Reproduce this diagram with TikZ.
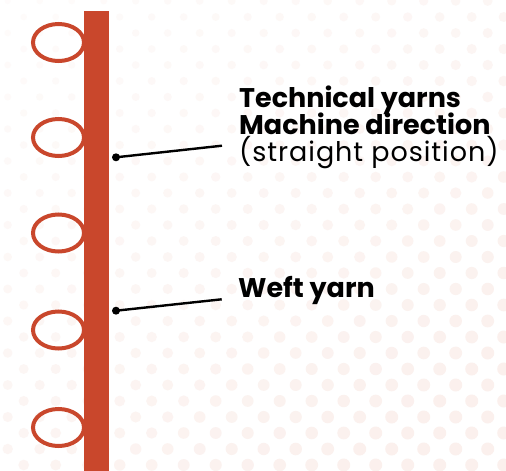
\documentclass[tikz,border=0pt]{standalone}
\usepackage{fontspec}
\setmainfont{Poppins}
\newfontfamily\widebook[LetterSpace=3.5]{Poppins}
\usetikzlibrary{shapes.geometric}
\definecolor{yarnred}{HTML}{C9472C}
\definecolor{halftone}{HTML}{F7E2DC}
\tikzset{
  loopyarn/.style={ellipse, draw=yarnred, line width=4pt, minimum width=51pt, minimum height=37pt, inner sep=0pt},
  pin/.style={circle, fill=black, inner sep=0pt, minimum size=8pt},
  leader/.style={line width=2.4pt},
  label/.style={anchor=base west, inner sep=0pt, font=\fontsize{27}{32}\selectfont}
}
\begin{document}
\begin{tikzpicture}[x=1pt,y=-1pt]
  \useasboundingbox (0,0) rectangle (506,471);
  \fill[white] (0,0) rectangle (506,471);
  % halftone dot texture, growing towards the lower right
  \foreach \row in {0,...,30}{
    \foreach \col in {0,...,16}{
      \pgfmathsetmacro{\dx}{mod(\row,2)==0 ? 0 : 16}
      \pgfmathsetmacro{\px}{7.7+32*(\col-1)+\dx}
      \pgfmathsetmacro{\py}{1+16*\row}
      \pgfmathsetmacro{\tt}{min(1,0.55*\px/506+0.65*\py/471)}
      \pgfmathsetmacro{\rr}{3+3.5*\tt}
      \pgfmathsetmacro{\op}{12+38*\tt}
      \fill[halftone!\op!white] (\px,\py) circle[radius=\rr];
    }
  }
  % loops of the weft yarn
  \node[loopyarn] (l1) at (58.5,42.5) {};
  \node[loopyarn] (l2) at (58.5,137.5) {};
  \node[loopyarn] (l3) at (58.5,233) {};
  \node[loopyarn] (l4) at (58.5,330) {};
  \node[loopyarn] (l5) at (58.5,427.5) {};
  % straight technical yarn
  \fill[yarnred] (84,11) rectangle (109,475);
  % labels
  \node[label] (t1) at (239,107.7) {\bfseries Technical yarns};
  \node[label] (t2) at (239,134.5) {\bfseries Machine direction};
  \node[label] (t3) at (239,161.7) {\widebook(straight position)};
  \node[label] (t4) at (238,297.7) {\bfseries Weft yarn};
  % leader lines
  \node[pin] (p1) at (116,157.3) {};
  \coordinate (e1) at (222,145.7);
  \draw[leader] (p1.center) -- (e1);
  \node[pin] (p2) at (116,310.7) {};
  \coordinate (e2) at (221.7,299.3);
  \draw[leader] (p2.center) -- (e2);
\end{tikzpicture}
\end{document}
